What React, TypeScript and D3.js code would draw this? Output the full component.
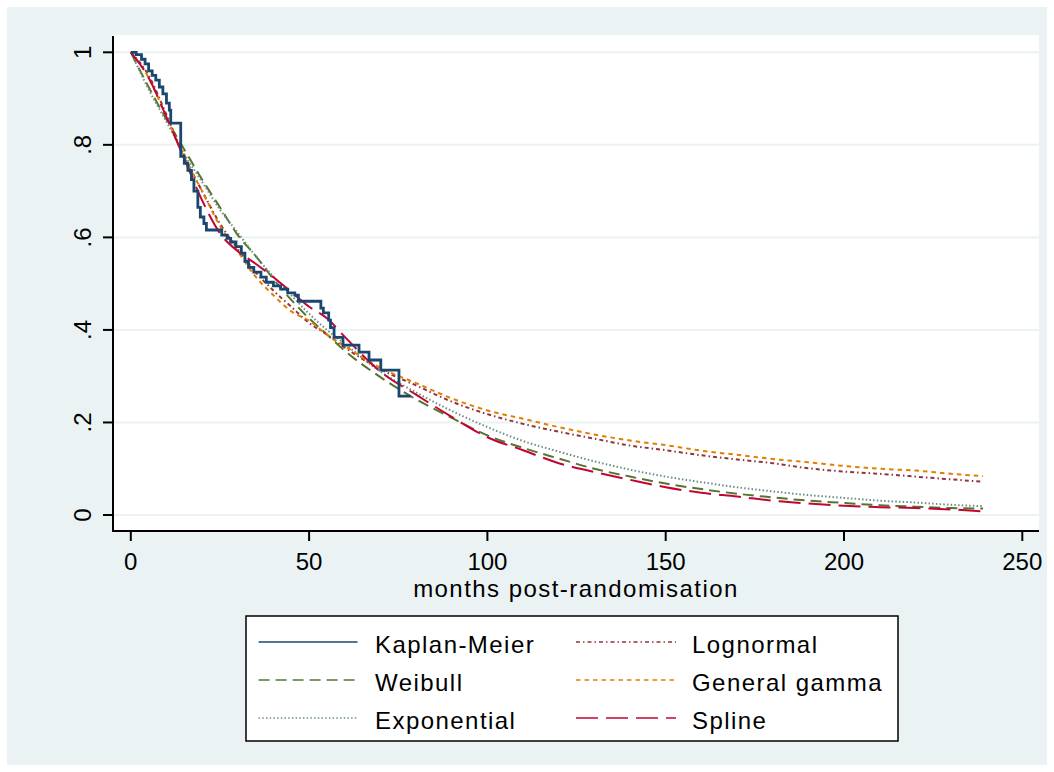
import React from "react";
import * as d3 from "d3";

const MODEL_TIMES = [0, 5, 10, 15, 20, 25, 30, 35, 40, 45, 50, 55, 60, 70, 80, 90, 100, 110, 120, 130, 140, 150, 160, 170, 180, 190, 200, 210, 220, 230, 239];

const weibull = [1, 0.925, 0.855, 0.79, 0.725, 0.665, 0.605, 0.56, 0.51, 0.465, 0.425, 0.39, 0.355, 0.298, 0.25, 0.21, 0.172, 0.145, 0.122, 0.1, 0.083, 0.068, 0.056, 0.046, 0.038, 0.031, 0.026, 0.021, 0.018, 0.015, 0.014];
const exponential = [1, 0.92, 0.85, 0.78, 0.72, 0.66, 0.61, 0.56, 0.515, 0.475, 0.435, 0.4, 0.37, 0.31, 0.265, 0.225, 0.19, 0.16, 0.137, 0.116, 0.098, 0.083, 0.071, 0.06, 0.051, 0.043, 0.037, 0.031, 0.027, 0.022, 0.019];
const lognormal = [1, 0.95, 0.865, 0.775, 0.7, 0.63, 0.575, 0.525, 0.485, 0.45, 0.415, 0.39, 0.362, 0.315, 0.28, 0.245, 0.218, 0.197, 0.18, 0.165, 0.15, 0.14, 0.129, 0.12, 0.112, 0.101, 0.094, 0.089, 0.083, 0.077, 0.072];
const genGamma = [1, 0.945, 0.86, 0.773, 0.7, 0.625, 0.57, 0.515, 0.475, 0.44, 0.42, 0.39, 0.365, 0.318, 0.285, 0.252, 0.226, 0.208, 0.19, 0.174, 0.161, 0.151, 0.139, 0.13, 0.121, 0.114, 0.106, 0.1, 0.096, 0.089, 0.084];
const spline = [1, 0.945, 0.86, 0.77, 0.68, 0.609, 0.57, 0.543, 0.514, 0.482, 0.45, 0.425, 0.385, 0.31, 0.26, 0.212, 0.168, 0.14, 0.112, 0.093, 0.076, 0.06, 0.048, 0.04, 0.031, 0.025, 0.02, 0.017, 0.015, 0.012, 0.008];

const kmTime = [0, 1.5, 3, 4, 5, 6, 7, 8, 9, 10, 10.8, 11.2, 14, 15, 16, 17, 17.7, 18.8, 19.5, 20.5, 21.2, 25.5, 27, 28, 29.5, 31, 32, 33, 34.5, 36.5, 38, 40, 42, 44, 46, 47, 53.3, 54, 55.5, 56, 57, 59.5, 64, 66.8, 70.1, 75.2, 78.5];
const kmSurv = [1, 0.995, 0.985, 0.975, 0.96, 0.95, 0.94, 0.925, 0.91, 0.89, 0.875, 0.847, 0.775, 0.76, 0.745, 0.725, 0.7, 0.665, 0.644, 0.63, 0.616, 0.605, 0.598, 0.59, 0.58, 0.566, 0.548, 0.535, 0.525, 0.514, 0.503, 0.495, 0.488, 0.48, 0.475, 0.462, 0.447, 0.437, 0.421, 0.405, 0.384, 0.367, 0.352, 0.335, 0.313, 0.257, 0.257];

const xTicks = [0, 50, 100, 150, 200, 250];
const yTicks = [0, 0.2, 0.4, 0.6, 0.8, 1];
const yTickLabels = ["0", ".2", ".4", ".6", ".8", "1"];

const seriesNames = ["Kaplan-Meier", "Weibull", "Exponential", "Lognormal", "General gamma", "Spline"];
const seriesColors = ["#1a476f", "#55752f", "#6e8e84", "#90353b", "#e37e00", "#c10534"];
const seriesDash = ["none", "11 6", "1.5 2.2", "4 3 1.5 3", "4.5 4", "22 8"];

const FONT = "'Liberation Sans', Arial, sans-serif";
const BG = "#eaf2f3";

export default function App() {
  const W = 1054, H = 772;
  const left = 113, right = 1039, top = 36, bottom = 531;
  const x = d3.scaleLinear().domain([0, 250]).range([130.8, 1022.3]);
  const y = d3.scaleLinear().domain([0, 1]).range([515, 52.3]);

  const kmLine = d3.line<number>().x((_, i) => x(kmTime[i])).y((d) => y(d)).curve(d3.curveStepAfter);
  const modelLine = d3.line<number>().x((_, i) => x(MODEL_TIMES[i])).y((d) => y(d)).curve(d3.curveMonotoneX);

  const models = [
    { data: weibull, idx: 1 },
    { data: exponential, idx: 2 },
    { data: lognormal, idx: 3 },
    { data: genGamma, idx: 4 },
    { data: spline, idx: 5 },
  ];

  const legX = [246, 898];
  const legY = [616, 741];
  const colSym = [[258.6, 357.5], [576, 676]];
  const colText = [375, 692];
  const rowY = [642, 680, 718];

  return (
    <svg width={W} height={H} style={{ position: "absolute", left: 0, top: 0 }} xmlns="http://www.w3.org/2000/svg">
      <rect x={0} y={0} width={W} height={H} fill="#ffffff" />
      <rect x={7} y={7} width={W - 14} height={H - 14} fill={BG} />
      <rect x={left - 1} y={top - 1} width={right - left + 1} height={bottom - top + 1} fill="#ffffff" />
      {yTicks.map((t) => (
        <line key={"g" + t} x1={left} x2={right} y1={y(t)} y2={y(t)} stroke={BG} strokeWidth={2} />
      ))}
      <g fill="none" strokeLinejoin="round">
        {models.map((m) => (
          <path key={m.idx} d={modelLine(m.data) || ""} stroke={seriesColors[m.idx]} strokeWidth={2} strokeDasharray={seriesDash[m.idx]} />
        ))}
      </g>
      <path d={kmLine(kmSurv) || ""} fill="none" stroke={seriesColors[0]} strokeWidth={2.8} />
      {/* axes */}
      <line x1={left} x2={left} y1={top} y2={bottom + 1} stroke="#000" strokeWidth={2} />
      <line x1={left - 1} x2={right} y1={bottom} y2={bottom} stroke="#000" strokeWidth={2} />
      {yTicks.map((t, i) => (
        <g key={"yt" + t}>
          <line x1={left - 10} x2={left} y1={y(t)} y2={y(t)} stroke="#000" strokeWidth={2} />
          <text transform={`translate(91,${y(t)}) rotate(-90)`} textAnchor="middle" fontFamily={FONT} fontSize={24} fill="#000">
            {yTickLabels[i]}
          </text>
        </g>
      ))}
      {xTicks.map((t) => (
        <g key={"xt" + t}>
          <line x1={x(t)} x2={x(t)} y1={bottom} y2={bottom + 10} stroke="#000" strokeWidth={2} />
          <text x={x(t)} y={570} textAnchor="middle" fontFamily={FONT} fontSize={24} fill="#000">
            {t}
          </text>
        </g>
      ))}
      <text x={(left + right) / 2} y={597} textAnchor="middle" fontFamily={FONT} fontSize={24} letterSpacing={1.45} fill="#000">
        months post-randomisation
      </text>
      {/* legend */}
      <rect x={legX[0]} y={legY[0]} width={legX[1] - legX[0]} height={legY[1] - legY[0]} fill="#fff" stroke="#000" strokeWidth={1.5} />
      {seriesNames.map((name, i) => {
        const col = i < 3 ? 0 : 1;
        const row = i % 3;
        return (
          <g key={name}>
            <line x1={colSym[col][0]} x2={colSym[col][1]} y1={rowY[row]} y2={rowY[row]} stroke={seriesColors[i]} strokeWidth={1.6} strokeDasharray={seriesDash[i]} />
            <text x={colText[col]} y={rowY[row] + 11} fontFamily={FONT} fontSize={24} letterSpacing={1.45} fill="#000">
              {name}
            </text>
          </g>
        );
      })}
    </svg>
  );
}
